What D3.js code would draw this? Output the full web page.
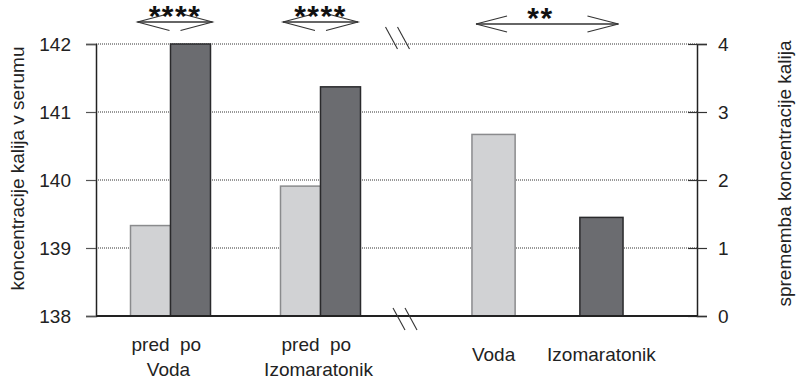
<!DOCTYPE html>
<html>
<head>
<meta charset="utf-8">
<script src="https://cdn.jsdelivr.net/npm/d3@7/dist/d3.min.js"></script>
<style>
  html, body { margin: 0; padding: 0; background: #fff; }
  svg { display: block; font-family: "Liberation Sans", Arial, Helvetica, sans-serif; }
</style>
</head>
<body>
<svg id="chart" width="796" height="381"></svg>
<script>
// Serum potassium concentration before/after, and its change, per drink
const groups = ["Voda", "Izomaratonik"];
const phases = ["pred", "po"];
const concPred = [139.33, 139.91];
const concPo = [142.0, 141.37];
const changeValues = [2.67, 1.45];
const leftTicks = [138, 139, 140, 141, 142];
const rightTicks = [0, 1, 2, 3, 4];
const leftTitle = "koncentracije kalija v serumu";
const rightTitle = "sprememba koncentracije kalija";
const pairStars = ["****", "****"];
const changeStars = "**";

const svg = d3.select("#chart");
const x0 = 96, x1 = 697, yTop = 44, yBot = 316;
const ink = "#222";
const lightFill = "#d1d2d4", lightStroke = "#8a8b8d";
const darkFill = "#6b6c70", darkStroke = "#2a2a2c";

const yL = d3.scaleLinear().domain([138, 142]).range([yBot, yTop]);
const yR = d3.scaleLinear().domain([0, 4]).range([yBot, yTop]);

// left part: grouped pred/po bars
const xGroup = d3.scaleBand().domain(groups).range([95.5, 395.5]);
const xPhase = d3.scaleBand().domain(phases).range([0, xGroup.bandwidth()])
  .paddingInner(0).paddingOuter(0.875);
// right part: change bars
const xChange = d3.scaleBand().domain(groups).range([418, 677])
  .paddingInner(0.6).paddingOuter(0.5);

// dotted gridlines
svg.append("g").selectAll("line").data(leftTicks.slice(1)).join("line")
  .attr("x1", x0).attr("x2", x1)
  .attr("y1", d => yL(d)).attr("y2", d => yL(d))
  .attr("stroke", "#333").attr("stroke-width", 1)
  .attr("stroke-dasharray", "1,1");

// bars
const pairRows = [];
groups.forEach((g, i) => {
  pairRows.push({ g, phase: "pred", v: concPred[i] });
  pairRows.push({ g, phase: "po", v: concPo[i] });
});
svg.append("g").selectAll("rect").data(pairRows).join("rect")
  .attr("x", d => xGroup(d.g) + xPhase(d.phase))
  .attr("width", xPhase.bandwidth())
  .attr("y", d => yL(d.v))
  .attr("height", d => yL(138) - yL(d.v))
  .attr("fill", d => d.phase === "pred" ? lightFill : darkFill)
  .attr("stroke", d => d.phase === "pred" ? lightStroke : darkStroke)
  .attr("stroke-width", 1.5);

svg.append("g").selectAll("rect").data(groups).join("rect")
  .attr("x", d => xChange(d))
  .attr("width", xChange.bandwidth())
  .attr("y", (d, i) => yR(changeValues[i]))
  .attr("height", (d, i) => yR(0) - yR(changeValues[i]))
  .attr("fill", (d, i) => i === 0 ? lightFill : darkFill)
  .attr("stroke", (d, i) => i === 0 ? lightStroke : darkStroke)
  .attr("stroke-width", 1.5);

// left axis
const gL = svg.append("g").attr("transform", `translate(${x0},0)`)
  .call(d3.axisLeft(yL).tickValues(leftTicks).tickSize(10).tickPadding(15).tickFormat(d3.format("d")));
gL.select(".domain").attr("stroke", ink).attr("stroke-width", 1.5);
gL.selectAll(".tick line").attr("stroke", "#555").attr("stroke-width", 1.2);
gL.selectAll(".tick text").attr("font-size", 19).attr("fill", ink)
  .attr("font-family", "Liberation Sans, Arial, sans-serif");

// right axis (ticks cross the axis line)
const gR = svg.append("g").attr("transform", `translate(${x1},0)`)
  .call(d3.axisRight(yR).tickValues(rightTicks).tickSize(10).tickPadding(11).tickFormat(d3.format("d")));
gR.select(".domain").attr("stroke", ink).attr("stroke-width", 1.5);
gR.selectAll(".tick line").attr("x1", -9).attr("stroke", "#333").attr("stroke-width", 1.2);
gR.selectAll(".tick text").attr("font-size", 19).attr("fill", ink)
  .attr("font-family", "Liberation Sans, Arial, sans-serif");

// baseline
svg.append("line").attr("x1", x0).attr("x2", x1)
  .attr("y1", yBot).attr("y2", yBot)
  .attr("stroke", ink).attr("stroke-width", 1.8);

// axis break marks
function breakMark(cx, cy) {
  [-6, 6].forEach(dx => {
    svg.append("line")
      .attr("x1", cx + dx - 6).attr("y1", cy - 11)
      .attr("x2", cx + dx + 6).attr("y2", cy + 11)
      .attr("stroke", "#333").attr("stroke-width", 1.1);
  });
}
breakMark(397.5, yTop - 6);
breakMark(405, yBot + 3);

// category labels
const labels = svg.append("g").attr("font-size", 19).attr("fill", ink).attr("text-anchor", "middle");
groups.forEach(g => {
  phases.forEach(p => {
    labels.append("text")
      .attr("x", xGroup(g) + xPhase(p) + xPhase.bandwidth() / 2)
      .attr("y", 351).text(p);
  });
  labels.append("text")
    .attr("x", xGroup(g) + xGroup.bandwidth() / 2 - 2)
    .attr("y", 376).text(g);
  labels.append("text")
    .attr("x", xChange(g) + xChange.bandwidth() / 2)
    .attr("y", 361).text(g);
});

// axis titles
svg.append("text")
  .attr("transform", `translate(24,${(292 + 45) / 2}) rotate(-90)`)
  .attr("text-anchor", "middle").attr("font-size", 19).attr("fill", ink)
  .text(leftTitle);
svg.append("text")
  .attr("transform", `translate(791,${(40 + 307) / 2}) rotate(-90)`)
  .attr("text-anchor", "middle").attr("font-size", 19).attr("fill", ink)
  .text(rightTitle);

// significance double arrows
function doubleArrow(xa, xb, y, head, spread, stars, starX) {
  const g = svg.append("g").attr("fill", "none").attr("stroke", "#333").attr("stroke-width", 1.1);
  g.append("line").attr("x1", xa).attr("x2", xb).attr("y1", y).attr("y2", y)
    .attr("stroke-width", 1.4);
  const line = d3.line();
  g.append("path").attr("d", line([[xa + head, y - spread], [xa, y], [xa + head, y + spread]]));
  g.append("path").attr("d", line([[xb - head, y - spread], [xb, y], [xb - head, y + spread]]));
  svg.append("text").attr("x", starX).attr("y", y + 4)
    .attr("text-anchor", "middle").attr("font-size", 30).attr("font-weight", "bold")
    .attr("fill", "#111").attr("letter-spacing", 1.5).text(stars);
}
groups.forEach((g, i) => {
  const c = xGroup(g) + xGroup.bandwidth() / 2;
  const shift = i === 0 ? 4.5 : 0;
  doubleArrow(c - 37.5 + shift, c + 37.5 + shift, 22, 32, 8.5, pairStars[i], c + shift);
});
{
  const ca = xChange(groups[0]) + xChange.bandwidth() / 2;
  const cb = xChange(groups[1]) + xChange.bandwidth() / 2;
  doubleArrow(ca - 17.5, cb + 17, 24, 31, 8, changeStars, (ca + cb) / 2 - 7);
}
</script>
</body>
</html>
